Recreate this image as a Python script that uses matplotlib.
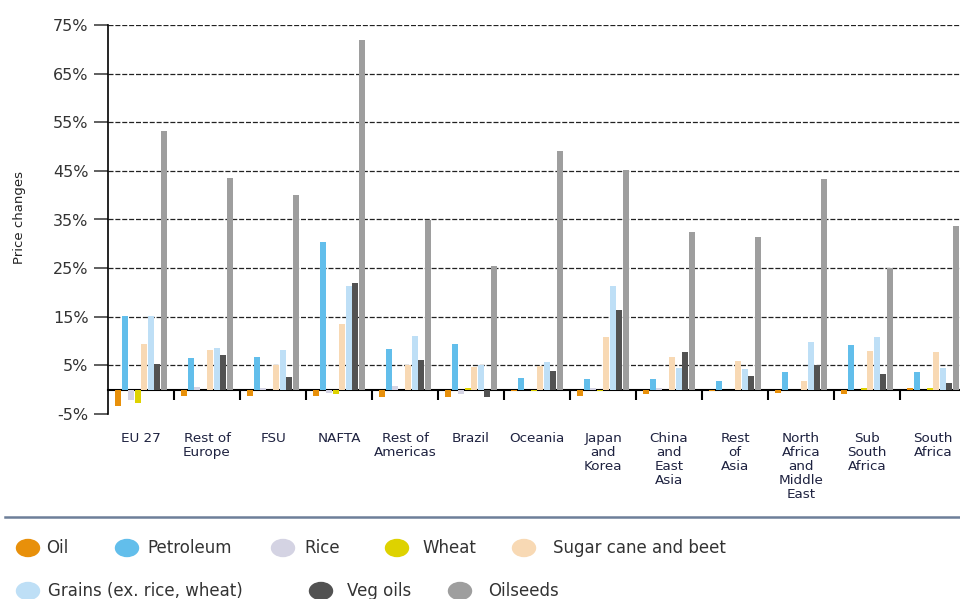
import numpy as np
import matplotlib
matplotlib.use("Agg")
import matplotlib.pyplot as plt
from matplotlib.patches import Ellipse
from matplotlib.lines import Line2D

# regions and price changes (%) per commodity
regions = ["EU 27", "Rest of\nEurope", "FSU", "NAFTA", "Rest of\nAmericas", "Brazil",
           "Oceania", "Japan\nand\nKorea", "China\nand\nEast\nAsia", "Rest\nof\nAsia",
           "North\nAfrica\nand\nMiddle\nEast", "Sub\nSouth\nAfrica", "South\nAfrica"]
oil       = [-3.3, -1.4, -1.4, -1.4, -1.5, -1.5, -0.3, -1.4, -0.9, -0.3, -0.6, -0.9, 0.4]
petroleum = [15.1, 6.5, 6.8, 30.4, 8.4, 9.4, 2.5, 2.3, 2.3, 1.8, 3.7, 9.1, 3.7]
rice      = [-2.1, 0.55, 0.3, -0.7, 0.8, -0.9, 0.0, 0.3, 0.3, 0.0, 0.0, 0.0, 0.0]
wheat     = [-2.7, 0.0, 0.0, -0.9, 0.0, 0.4, -0.3, -0.3, 0.0, 0.0, 0.0, 0.4, 0.4]
sugar     = [9.4, 8.2, 5.0, 13.5, 5.1, 4.7, 4.9, 10.8, 6.8, 6.0, 1.8, 8.0, 7.8]
grains    = [15.1, 8.6, 8.2, 21.4, 11.1, 5.0, 5.6, 21.4, 4.5, 4.2, 9.9, 10.8, 4.5]
veg_oils  = [5.3, 7.2, 2.7, 22.0, 6.1, -1.5, 3.9, 16.3, 7.8, 2.9, 5.0, 3.2, 1.3]
oilseeds  = [53.3, 43.5, 40.1, 71.9, 34.8, 25.4, 49.0, 45.1, 32.5, 31.5, 43.3, 25.0, 33.7]

series = [oil, petroleum, rice, wheat, sugar, grains, veg_oils, oilseeds]
names = ["Oil", "Petroleum", "Rice", "Wheat", "Sugar cane and beet",
         "Grains (ex. rice, wheat)", "Veg oils", "Oilseeds"]
colors = ["#E8900A", "#62BEEB", "#D4D3E3", "#DED200", "#F8D9B4",
          "#BEDFF6", "#525252", "#9E9E9E"]
yticks = [-5, 5, 15, 25, 35, 45, 55, 65, 75]

fig = plt.figure(figsize=(9.6, 5.99), dpi=100)
W, H = 960, 599
ax = fig.add_axes([108 / W, 1 - 414 / H, (966 - 108) / W, (414 - 25) / H])

x = np.arange(len(regions))
bw = 0.099
for k, (vals, c) in enumerate(zip(series, colors)):
    ax.bar(x + (k - 3.5) * bw, vals, width=bw * 0.95, color=c, linewidth=0, zorder=3)

# dashed grid lines
for v in yticks[1:]:
    ax.axhline(v, color="#222222", lw=0.9, ls=(0, (4, 1.5)), zorder=1)

ax.set_xlim(-0.5, len(regions) - 0.5)
ax.set_ylim(-5, 75)
ax.set_yticks(yticks)
ax.set_yticklabels([f"{v}%" for v in yticks], fontsize=11.5, color="#333333")
ax.tick_params(axis="y", length=10, width=1.2, color="#444444", pad=4)

ax.spines["top"].set_visible(False)
ax.spines["right"].set_visible(False)
ax.spines["left"].set_linewidth(1.2)
ax.spines["bottom"].set_position(("data", 0))
ax.spines["bottom"].set_linewidth(1.5)
ax.set_xticks(x[1:] - 0.5)
ax.set_xticklabels([])
ax.tick_params(axis="x", length=7, width=1.5, direction="out")

for i, r in enumerate(regions):
    ax.text(i, -8.7, r, ha="center", va="top", fontsize=9.7, color="#1e2240",
            linespacing=1.1, clip_on=False)

fig.text(20 / W, 1 - 217 / H, "Price changes", rotation=90, ha="center", va="center",
         fontsize=9.5, color="#222222")

# divider above legend
fig.add_artist(Line2D([5 / W, 1], [1 - 517 / H, 1 - 517 / H], color="#6d7f99", lw=1.8,
                      transform=fig.transFigure))

# legend built by hand
leg_pos = [(28, 548, 46), (127, 548, 147), (283, 548, 304), (397, 548, 422), (524, 548, 553),
           (28, 591, 48), (321, 591, 347), (460, 591, 488)]
for (cx, cy, tx), name, c in zip(leg_pos, names, colors):
    fig.add_artist(Ellipse((cx / W, 1 - cy / H), 23 / W, 17 / H, color=c,
                           transform=fig.transFigure))
    fig.text(tx / W, 1 - cy / H, name, ha="left", va="center", fontsize=12, color="#333333")

fig.savefig("out.png", dpi=100)
